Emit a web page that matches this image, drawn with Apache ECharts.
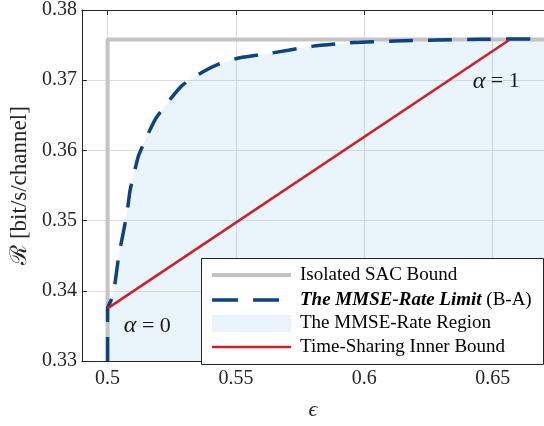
<!DOCTYPE html>
<html><head><meta charset="utf-8">
<script src="https://cdn.jsdelivr.net/npm/echarts@6/dist/echarts.min.js"></script>
<style>html,body{margin:0;padding:0;background:#fff}#c{width:544px;height:426px}</style>
</head><body><div id="c"></div>
<script>
const xTicks = [0.5, 0.55, 0.6, 0.65];
const yTicks = [0.33, 0.34, 0.35, 0.36, 0.37, 0.38];
const sacX = [0.5, 0.5, 0.67];
const sacY = [0.33, 0.3758, 0.3758];
const limitX = [0.5, 0.5, 0.50115, 0.50230, 0.50287, 0.50440, 0.50612, 0.50754, 0.50880, 0.51033, 0.51198, 0.51581, 0.51902, 0.52476, 0.52920, 0.53685, 0.54325, 0.55155, 0.56353, 0.57960, 0.59606, 0.61213, 0.62859, 0.64466, 0.67];
const limitY = [0.33, 0.3375, 0.33847, 0.33958, 0.34096, 0.34511, 0.34828, 0.35105, 0.35437, 0.35672, 0.35916, 0.36238, 0.36469, 0.36745, 0.36929, 0.37113, 0.37229, 0.37320, 0.37385, 0.37482, 0.37537, 0.37558, 0.37574, 0.37583, 0.37588];
const tsX = [0.5, 0.6563];
const tsY = [0.3375, 0.3757];
const alphaLabels = ['0', '1'];
const alphaX = [0.5155, 0.6514];
const alphaY = [0.3350, 0.3698];
const legendNames = ['Isolated SAC Bound', 'The MMSE-Rate Limit', 'The MMSE-Rate Region', 'Time-Sharing Inner Bound'];

const zip = (xs, ys) => xs.map((x, i) => [x, ys[i]]);
const FONT = 'Liberation Serif';
const AX = '#262626';
const chart = echarts.init(document.getElementById('c'), null, {renderer: 'canvas'});

const commonX = {
  type: 'value', min: 0.49, max: 0.67,
  axisLine: {show: true, lineStyle: {color: AX, width: 1}},
};
const option = {
  animation: false,
  backgroundColor: '#fff',
  grid: {left: 81, right: -7, top: 8, bottom: 57, containLabel: false},
  xAxis: [
    Object.assign({}, commonX, {
      position: 'bottom',
      name: 'ϵ', nameLocation: 'middle', nameGap: 38,
      nameTextStyle: {fontFamily: FONT, fontSize: 22, fontStyle: 'italic', color: AX},
      axisTick: {show: true, inside: true, length: 5, customValues: xTicks, lineStyle: {color: AX}},
      axisLabel: {customValues: xTicks, fontFamily: FONT, fontSize: 20, color: AX, margin: 8,
        formatter: v => String(+v.toFixed(2))},
      splitLine: {show: true, lineStyle: {color: '#dedede', width: 1}}
    }),
    Object.assign({}, commonX, {
      position: 'top',
      axisTick: {show: true, inside: true, length: 5, customValues: xTicks, lineStyle: {color: AX}},
      axisLabel: {show: false},
      splitLine: {show: false}
    })
  ],
  yAxis: {
    type: 'value', min: 0.33, max: 0.38, interval: 0.01,
    name: 'ℛ [bit/s/channel]', nameLocation: 'middle', nameGap: 47,
    nameTextStyle: {fontFamily: FONT, fontSize: 23, color: AX},
    axisLine: {show: true, lineStyle: {color: AX, width: 1}},
    axisTick: {show: true, inside: true, length: 5, lineStyle: {color: AX}},
    axisLabel: {fontFamily: FONT, fontSize: 20, color: AX, margin: 5,
      formatter: v => v.toFixed(2)},
    splitLine: {show: true, lineStyle: {color: '#dedede', width: 1}}
  },
  series: [
    {
      name: legendNames[2], type: 'line', data: zip(limitX, limitY), symbol: 'none',
      smooth: 0.2,
      lineStyle: {width: 0}, areaStyle: {color: '#5fb0e0', opacity: 0.13}, z: 1, silent: true
    },
    {
      name: legendNames[0], type: 'line', data: zip(sacX, sacY), symbol: 'none',
      lineStyle: {color: '#c4c4c4', width: 4}, z: 2
    },
    {
      name: legendNames[1], type: 'line', data: zip(limitX, limitY), symbol: 'none',
      smooth: 0.2,
      lineStyle: {color: '#0b4383', width: 3.5, type: [24, 15]}, z: 3
    },
    {
      name: legendNames[3], type: 'line', data: zip(tsX, tsY), symbol: 'none',
      lineStyle: {color: '#d21f27', width: 2.5}, z: 4,
      markPoint: {
        symbol: 'circle', symbolSize: 0, silent: true,
        data: alphaLabels.map((t, i) => ({coord: [alphaX[i], alphaY[i]], value: t})),
        label: {
          show: true, position: 'inside', color: '#1a1a1a',
          fontFamily: FONT, fontSize: 22,
          formatter: p => '{a|α} = ' + p.value,
          rich: {a: {fontFamily: FONT, fontStyle: 'italic', fontSize: 24, color: '#1a1a1a'}}
        }
      }
    }
  ],
  graphic: [
    {type: 'rect', shape: {x: 201.5, y: 258.5, width: 342, height: 106}, style: {fill: '#fff', stroke: AX, lineWidth: 1}, z: 100},
    {type: 'line', shape: {x1: 212, y1: 275, x2: 291, y2: 275}, style: {stroke: '#c4c4c4', lineWidth: 4}, z: 101},
    {type: 'line', shape: {x1: 212, y1: 300, x2: 291, y2: 300}, style: {stroke: '#0b4383', lineWidth: 3.5, lineDash: [26, 15]}, z: 101},
    {type: 'rect', shape: {x: 212, y: 315, width: 79, height: 17}, style: {fill: '#eaf5fb'}, z: 101},
    {type: 'line', shape: {x1: 212, y1: 347, x2: 291, y2: 347}, style: {stroke: '#d21f27', lineWidth: 2.5}, z: 101},
    {type: 'text', x: 300, y: 275, z: 102, style: {text: legendNames[0], fontFamily: FONT, fontSize: 19, fill: '#000', verticalAlign: 'middle'}},
    {type: 'text', x: 300, y: 300, z: 102, style: {text: '{bi|' + legendNames[1] + '} (B-A)', fontFamily: FONT, fontSize: 19, fill: '#000', verticalAlign: 'middle',
      rich: {bi: {fontFamily: FONT, fontSize: 19, fontWeight: 'bold', fontStyle: 'italic', fill: '#000'}}}},
    {type: 'text', x: 300, y: 323, z: 102, style: {text: legendNames[2], fontFamily: FONT, fontSize: 19, fill: '#000', verticalAlign: 'middle'}},
    {type: 'text', x: 300, y: 347, z: 102, style: {text: legendNames[3], fontFamily: FONT, fontSize: 19, fill: '#000', verticalAlign: 'middle'}}
  ]
};
chart.setOption(option);
</script>
</body></html>
